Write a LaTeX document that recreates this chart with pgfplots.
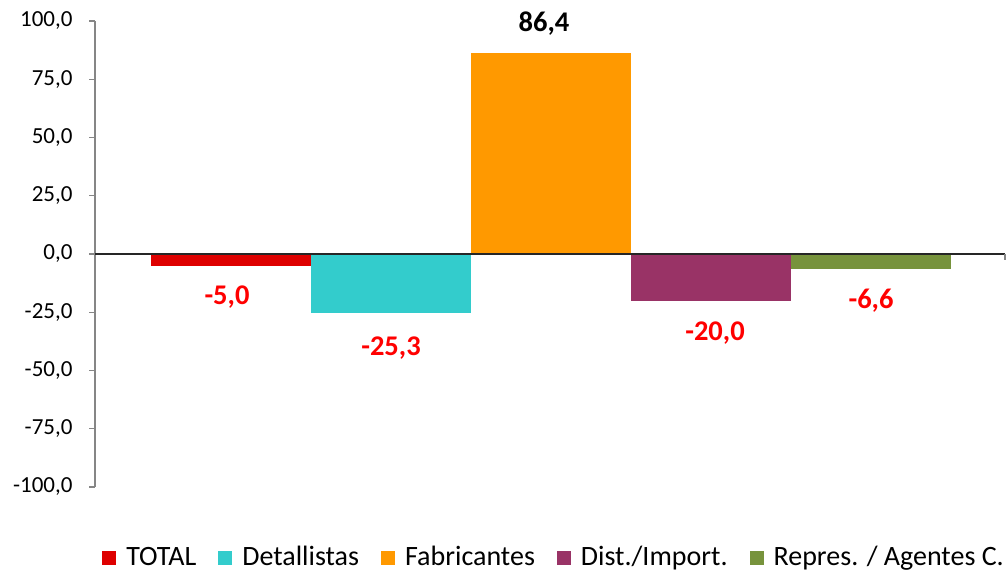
\documentclass[border=0pt]{standalone}
\usepackage{pgfplots}
\pgfplotsset{compat=1.18}
\usepackage{fontspec}
\setmainfont{Carlito}
\definecolor{cTot}{HTML}{DE0000}
\definecolor{cDet}{HTML}{33CCCC}
\definecolor{cFab}{HTML}{FF9900}
\definecolor{cDis}{HTML}{993366}
\definecolor{cRep}{HTML}{77933C}
\definecolor{axgray}{HTML}{868686}
\begin{document}
\begin{tikzpicture}[x=1pt,y=1pt]
\useasboundingbox (0,0) rectangle (1008,573);
\begin{axis}[
  at={(95pt,86pt)}, anchor=south west,
  scale only axis, width=910pt, height=466pt,
  xmin=95, xmax=1005, ymin=-100, ymax=100,
  axis y line=left, axis x line=none,
  axis line style={-, draw=axgray, line width=1.3pt},
  ytick={-100,-75,...,100}, xtick=\empty,
  tick align=outside, major tick length=6pt, ytick pos=left,
  tick style={draw=axgray, line width=1.3pt},
  yticklabel style={font=\fontsize{23}{27}\selectfont, xshift=-13pt,
    /pgf/number format/.cd, fixed, fixed zerofill, precision=1, use comma, assume math mode=true},
  ybar, bar width=160, bar shift=0pt,
  clip=false,
  nodes near coords={\pgfmathprintnumber[fixed,fixed zerofill,precision=1,use comma,assume math mode=true]{\pgfplotspointmeta}},
  every node near coord/.append style={font=\fontsize{28.5}{30}\selectfont\bfseries},
  legend columns=-1,
  legend style={at={(0.5033,-0.1524)}, anchor=center, draw=none, fill=none,
    font=\fontsize{28}{30}\selectfont,
    nodes={inner xsep=0pt, text height=20pt, text depth=6pt},
    /tikz/every odd column/.append style={column sep=10pt},
    /tikz/every even column/.append style={column sep=22pt}},
  legend image code/.code={\path[#1, draw=none] (0pt,-7pt) rectangle (14pt,7pt);},
]
\addplot[fill=cTot, draw=none, every node near coord/.append style={anchor=base, yshift=-39pt, xshift=-4pt, text=red}] coordinates {(231,-5.0)};
\addplot[fill=cDet, draw=none, every node near coord/.append style={anchor=base, yshift=-43pt, text=red}] coordinates {(391,-25.3)};
\addplot[fill=cFab, draw=none, every node near coord/.append style={anchor=base, yshift=21pt, xshift=-7pt, text=black}] coordinates {(551,86.4)};
\addplot[fill=cDis, draw=none, every node near coord/.append style={anchor=base, yshift=-40pt, xshift=4pt, text=red}] coordinates {(711,-20.0)};
\addplot[fill=cRep, draw=none, every node near coord/.append style={anchor=base, yshift=-39pt, text=red}] coordinates {(871,-6.6)};
\legend{TOTAL, Detallistas, Fabricantes, Dist./Import., Repres. / Agentes C.}
\draw[black!85, line width=1.5pt] (axis cs:95,0) -- (axis cs:1005,0);
\draw[axgray, line width=1.3pt] (axis cs:1005,0) -- ++(0pt,-6pt);
\end{axis}
\end{tikzpicture}
\end{document}
